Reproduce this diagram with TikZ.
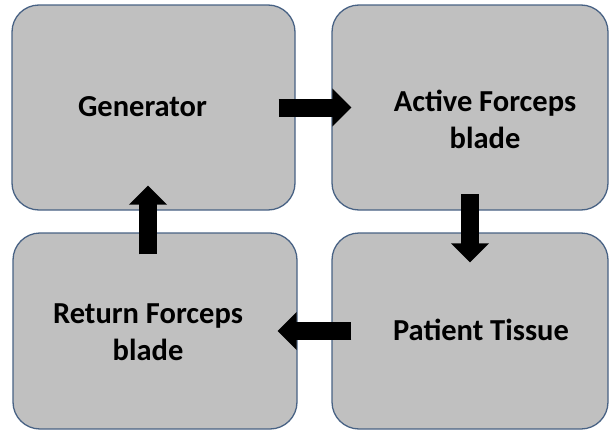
\documentclass[tikz,border=0pt]{standalone}
\usepackage{fontspec}
\setmainfont{Carlito}
\usetikzlibrary{arrows.meta}
\definecolor{stagefill}{RGB}{192,192,192}
\definecolor{stageline}{RGB}{72,98,132}

\begin{document}
\begin{tikzpicture}[x=1pt, y=-1pt,
	stage/.style={draw=stageline, line width=1.3pt, fill=stagefill, rounded corners=27pt, inner sep=0pt},
	stagetext/.style={font=\fontsize{30.5}{37}\selectfont\bfseries, align=center, anchor=base},
	flow/.style={line width=18pt, -{Triangle[length=19pt, width=37pt]}}]
	\useasboundingbox (0,0) rectangle (611,431);
	\node[stage, minimum width=283pt, minimum height=205pt] (gen) at (153.5,107.5) {};
	\node[stage, minimum width=276pt, minimum height=205pt] (act) at (470,107.5) {};
	\node[stage, minimum width=276pt, minimum height=196pt] (pat) at (470,331) {};
	\node[stage, minimum width=284pt, minimum height=196pt] (ret) at (155,331) {};
	% two-line labels sit on their last line
	\node[stagetext] (gentext) at (142.5,116.5) {Generator};
	\node[stagetext] (acttext) at (485,148) {Active Forceps\\blade};
	\node[stagetext] (pattext) at (481,340) {Patient Tissue};
	\node[stagetext] (rettext) at (148,360) {Return Forceps\\blade};
	\draw[flow] ([xshift=-17pt]gen.east) -- ([xshift=20pt]act.west);
	\draw[flow] ([yshift=16.5pt]act.south) -- ([yshift=-30pt]pat.north);
	\draw[flow] ([xshift=20pt]pat.west) -- ([xshift=-20pt]ret.east);
	\draw[flow] ([xshift=-7pt, yshift=-22pt]ret.north) -- ([xshift=-5.5pt, yshift=25pt]gen.south);
\end{tikzpicture}
\end{document}
